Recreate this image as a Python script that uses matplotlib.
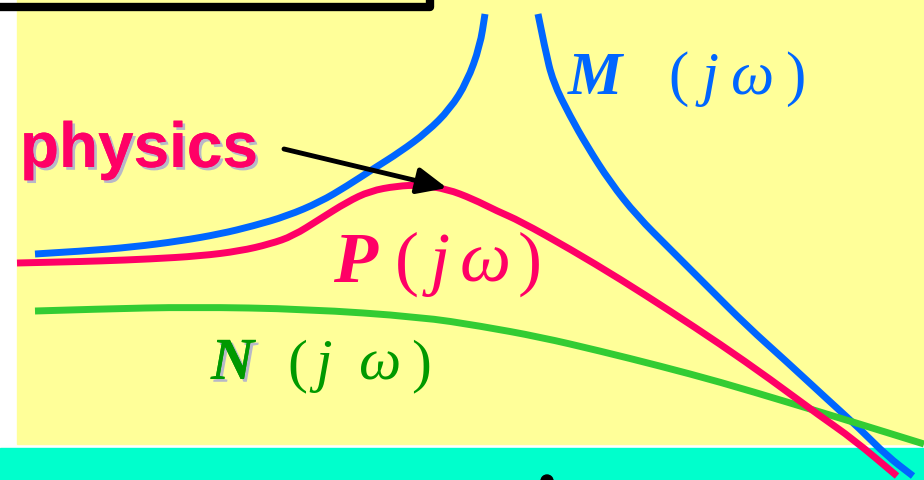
import matplotlib.pyplot as plt
import matplotlib.patheffects as pe
from matplotlib.patches import Rectangle, Circle, PathPatch
from matplotlib.path import Path

# curve points (pixel units, y down)
m_left_x = [35, 85, 133, 180, 220, 253, 287, 320, 347, 373, 400, 427, 450, 467, 480, 485]
m_left_y = [255, 252, 248, 242, 235, 227, 217, 203, 187, 170, 153, 133, 110, 83, 47, 15]
m_right_x = [538, 545, 553, 570, 587, 610, 637, 670, 707, 747, 787, 827, 860, 887, 913]
m_right_y = [15, 50, 83, 117, 147, 183, 217, 250, 287, 327, 363, 400, 430, 457, 477]
p_x = [17, 60, 100, 150, 200, 240, 270, 293, 320, 347, 370, 397, 420, 447, 473, 497, 520,
       570, 620, 670, 720, 770, 820, 853, 897]
p_y = [264, 263, 262, 260, 257, 252, 245, 237, 220, 203, 192, 187, 186, 190, 200, 212, 222,
       250, 280, 312, 345, 380, 417, 440, 477]
n_x = [35, 100, 191, 306, 421, 480, 540, 600, 660, 720, 787, 853, 924]
n_y = [312, 310, 308, 310, 318, 327, 338, 352, 367, 383, 403, 423, 445]

yellow = '#FFFF99'
cyan = '#00FFCC'
blue = '#0066FF'
pink = '#FF0066'
green = '#33CC33'
dkgreen = '#009900'

fig = plt.figure(figsize=(9.24, 4.81), dpi=100)
ax = fig.add_axes([0, 0, 1, 1])
ax.set_xlim(0, 924)
ax.set_ylim(481, 0)
ax.axis('off')

# background panels
ax.add_patch(Rectangle((17, 0), 907, 445, color=yellow, zorder=0))
ax.add_patch(Rectangle((0, 449), 924, 32, color=cyan, zorder=0))
ax.add_patch(Circle((547, 482), 6, color='black', zorder=1))
ax.plot([0, 430, 430], [8, 8, 0], color='black', lw=6, solid_capstyle='butt', zorder=2)


def smooth_curve(xs, ys, color, z):
    # quadratic bezier through the read points, so the line is drawn smooth
    pts = list(zip(xs, ys))
    verts = [pts[0]]
    codes = [Path.MOVETO]
    for i in range(1, len(pts) - 1):
        mid = ((pts[i][0] + pts[i + 1][0]) / 2, (pts[i][1] + pts[i + 1][1]) / 2)
        verts += [pts[i], mid]
        codes += [Path.CURVE3, Path.CURVE3]
    verts.append(pts[-1])
    codes.append(Path.LINETO)
    ax.add_patch(PathPatch(Path(verts, codes), facecolor='none', edgecolor=color,
                           lw=5, capstyle='butt', zorder=z))


smooth_curve(m_left_x, m_left_y, blue, 3)
smooth_curve(m_right_x, m_right_y, blue, 3)
smooth_curve(n_x, n_y, green, 3)
smooth_curve(p_x, p_y, pink, 4)

# arrow
ax.annotate('', xy=(447, 189), xytext=(284, 150),
            arrowprops=dict(arrowstyle='-|>,head_length=1.8,head_width=0.8',
                            color='black', lw=3.5, shrinkA=0, shrinkB=0), zorder=5)

serif = 'Liberation Serif'
shadow = [pe.withSimplePatchShadow(offset=(2, -2), shadow_rgbFace='#b8b8c8', alpha=1), pe.Normal()]


def label(parts, y, color, size, fx=None):
    # parts: (x, text, bold, italic)
    for x, s, bold, ital in parts:
        ax.text(x, y, s, color=color, fontsize=size, family=serif,
                fontweight='bold' if bold else 'normal',
                style='italic' if ital else 'normal',
                va='baseline', ha='left', zorder=6,
                path_effects=fx if (fx and bold) else None)


ax.text(20, 168, 'physics', color=pink, fontsize=46, fontweight='bold',
        family='Liberation Sans', va='baseline', ha='left', path_effects=shadow, zorder=6)

label([(568, 'M', True, True), (668, '(', False, False), (702, 'j', False, True),
       (731, '\u03c9', False, True), (785, ')', False, False)], 94, blue, 44)
label([(333, 'P', True, True), (395, '(', False, False), (430, 'j', False, True),
       (460, '\u03c9', False, True), (518, ')', False, False)], 282, pink, 52)
label([(211, 'N', True, True), (287, '(', False, False), (315, 'j', False, True),
       (358, '\u03c9', False, True), (411, ')', False, False)], 380, dkgreen, 43, shadow)

fig.savefig('out.png', dpi=100)
